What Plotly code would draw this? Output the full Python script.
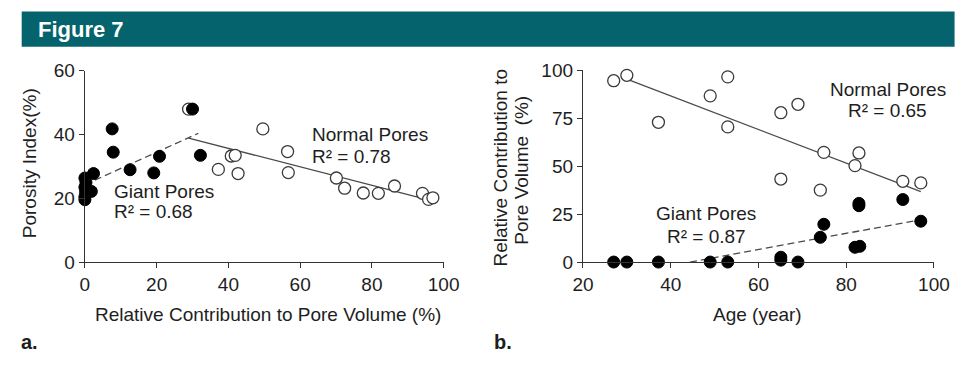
import plotly.graph_objects as go

W, H = 973, 368

# ---------------- Panel a data ----------------
a_giant_x = [0.0, 0.3, 0.0, 0.2, 0.0, 0.0, 1.8, 2.4, 7.6, 7.9, 12.6, 19.2, 20.8, 30.0, 32.2]
a_giant_y = [26.4, 25.0, 23.5, 22.0, 20.5, 19.6, 22.2, 27.8, 41.8, 34.5, 29.0, 28.0, 33.2, 48.0, 33.5]
a_normal_x = [28.9, 37.2, 40.8, 41.9, 42.7, 49.6, 56.5, 56.7, 70.1, 72.4, 77.6, 81.8, 86.3, 94.1, 95.8, 97.0]
a_normal_y = [48.0, 29.1, 33.3, 33.5, 27.8, 41.8, 34.7, 28.1, 26.4, 23.2, 21.7, 21.6, 23.9, 21.6, 19.7, 20.2]
a_giant_fit_x = [0.0, 31.6]
a_giant_fit_y = [24.3, 40.4]
a_normal_fit_x = [28.9, 96.0]
a_normal_fit_y = [38.9, 19.5]
a_xticks = [0, 20, 40, 60, 80, 100]
a_yticks = [0, 20, 40, 60]

# ---------------- Panel b data ----------------
b_normal_x = [27.0, 30.0, 37.2, 49.0, 53.0, 53.0, 65.1, 69.0, 65.1, 74.9, 74.1, 82.9, 82.0, 92.9, 97.0]
b_normal_y = [94.6, 97.4, 72.9, 86.7, 96.6, 70.5, 77.9, 82.3, 43.3, 57.2, 37.5, 56.9, 50.3, 42.1, 41.3]
b_giant_x = [27.0, 30.0, 37.2, 49.0, 53.0, 65.1, 65.1, 69.0, 74.1, 74.9, 82.9, 82.9, 82.0, 83.1, 92.9, 97.0]
b_giant_y = [0.0, 0.0, 0.0, 0.0, 0.0, 2.5, 1.0, 0.0, 12.9, 19.7, 30.6, 29.4, 7.7, 8.2, 32.6, 21.3]
b_normal_fit_x = [30.0, 97.0]
b_normal_fit_y = [95.4, 36.7]
b_giant_fit_x = [44.4, 97.0]
b_giant_fit_y = [0.0, 22.1]
b_xticks = [20, 40, 60, 80, 100]
b_yticks = [0, 25, 50, 75, 100]

FONT = "Liberation Sans, Arial, Helvetica, sans-serif"
BOLD = "Liberation Sans, Arial, sans-serif"
TXT = "#1e1e1e"
AX = "#333333"
LINE = "#4a4a4a"


def px(x):
    return x / W


def py(y):
    return 1 - y / H


fig = go.Figure()

open_marker = dict(symbol="circle", size=12, color="white", line=dict(color="#3a3a3a", width=1.3))
fill_marker = dict(symbol="circle", size=12, color="black", line=dict(color="black", width=1))

# Panel a
fig.add_trace(go.Scatter(x=a_giant_fit_x, y=a_giant_fit_y, mode="lines",
                         line=dict(color=LINE, width=1.3, dash="7px,4px"), xaxis="x", yaxis="y", cliponaxis=False))
fig.add_trace(go.Scatter(x=a_normal_fit_x, y=a_normal_fit_y, mode="lines",
                         line=dict(color=LINE, width=1.3), xaxis="x", yaxis="y", cliponaxis=False))
fig.add_trace(go.Scatter(x=a_normal_x, y=a_normal_y, mode="markers", marker=open_marker,
                         xaxis="x", yaxis="y", cliponaxis=False))
fig.add_trace(go.Scatter(x=a_giant_x, y=a_giant_y, mode="markers", marker=fill_marker,
                         xaxis="x", yaxis="y", cliponaxis=False))

# Panel b
fig.add_trace(go.Scatter(x=b_normal_fit_x, y=b_normal_fit_y, mode="lines",
                         line=dict(color=LINE, width=1.3), xaxis="x2", yaxis="y2", cliponaxis=False))
fig.add_trace(go.Scatter(x=b_giant_fit_x, y=b_giant_fit_y, mode="lines",
                         line=dict(color=LINE, width=1.3, dash="7px,4px"), xaxis="x2", yaxis="y2", cliponaxis=False))
fig.add_trace(go.Scatter(x=b_normal_x, y=b_normal_y, mode="markers", marker=open_marker,
                         xaxis="x2", yaxis="y2", cliponaxis=False))
fig.add_trace(go.Scatter(x=b_giant_x, y=b_giant_y, mode="markers", marker=fill_marker,
                         xaxis="x2", yaxis="y2", cliponaxis=False))

axis_common = dict(showgrid=False, zeroline=False, showline=True, linecolor=AX, linewidth=1.3,
                   ticks="outside", ticklen=5, tickwidth=1.3, tickcolor=AX,
                   tickfont=dict(family=FONT, size=19, color=TXT), fixedrange=True)

fig.update_layout(
    width=W, height=H,
    margin=dict(l=0, r=0, t=0, b=0),
    paper_bgcolor="white", plot_bgcolor="white",
    showlegend=False,
    xaxis=dict(domain=[px(76), px(445)], range=[0, 100], tickvals=a_xticks, anchor="y", **axis_common),
    yaxis=dict(domain=[py(267.5), py(64.5)], range=[0, 60], tickvals=a_yticks, anchor="x", **axis_common),
    xaxis2=dict(domain=[px(588.3), px(949.3)], range=[20, 100], tickvals=b_xticks, anchor="y2", **axis_common),
    yaxis2=dict(domain=[py(267.3), py(64)], range=[0, 100], tickvals=b_yticks, anchor="x2", **axis_common),
)

# Header bar
fig.add_shape(type="rect", xref="paper", yref="paper", x0=px(11), x1=px(970.5), y0=py(39), y1=py(1.7),
              fillcolor="#04636C", line=dict(width=0), layer="below")

ann = []


def txt(text, x, y, size=19, xanchor="center", yanchor="middle", color=TXT, family=FONT, angle=0, bold=False):
    t = f"<b>{text}</b>" if bold else text
    ann.append(dict(text=t, x=px(x), y=py(y), xref="paper", yref="paper", showarrow=False,
                    xanchor=xanchor, yanchor=yanchor, textangle=angle,
                    font=dict(family=family, size=size, color=color)))


txt("Figure 7", 26, 21, size=22, xanchor="left", color="white", family=BOLD, bold=True)

# Panel a texts
txt("Relative Contribution to Pore Volume (%)", 264, 323)
txt("Porosity Index(%)", 19, 162, angle=-90)
txt("Normal Pores", 308, 132, xanchor="left")
txt("R² = 0.78", 308, 155, xanchor="left")
txt("Giant Pores", 104, 192, xanchor="left")
txt("R² = 0.68", 104, 214, xanchor="left")
txt("a.", 8, 352, size=20, xanchor="left", family=BOLD, bold=True)

# Panel b texts
txt("Age (year)", 768, 323)
txt("Relative Contribution to", 503, 167, angle=-90)
txt("Pore Volume \u00a0(%)", 525, 170, angle=-90)
txt("Normal Pores", 902, 84)
txt("R² = 0.65", 902, 107)
txt("Giant Pores", 715, 216)
txt("R² = 0.87", 715, 240)
txt("b.", 495, 352, size=20, xanchor="left", family=BOLD, bold=True)

fig.update_layout(annotations=ann)

fig.write_html("out.html", post_script="document.body.style.margin='0';document.body.style.padding='0';")
